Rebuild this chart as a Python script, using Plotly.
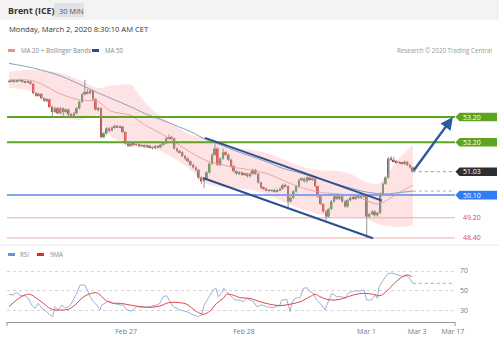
import plotly.graph_objects as go

# ---------------- data ----------------
closes = [
    54.62, 54.64, 54.60, 54.63, 54.65, 54.60, 54.58, 54.60, 54.52, 54.15,
    54.05, 54.12, 53.95, 53.85, 53.90, 53.60, 53.40, 53.55, 53.35, 53.55,
    53.40, 53.50, 53.30, 53.25, 53.35, 53.55, 53.80, 54.10, 54.20, 54.15,
    54.25, 53.90, 53.50, 53.55, 52.40, 52.55, 52.75, 52.65, 52.78, 52.85,
    52.80, 52.82, 52.60, 52.15, 52.05, 52.15, 52.10, 52.12, 52.05, 52.08,
    52.02, 52.06, 52.00, 51.97, 52.05, 52.00, 52.10, 52.15, 52.35, 52.40,
    52.35, 51.95, 51.85, 51.80, 51.65, 51.55, 51.45, 51.30, 51.20, 51.10,
    50.80, 50.65, 50.75, 51.00, 51.35, 51.70, 51.95, 51.30, 51.55, 51.80,
    51.70, 51.50, 51.25, 51.05, 50.95, 51.00, 50.90, 50.95, 50.85, 50.95,
    51.10, 50.95, 50.60, 50.40, 50.35, 50.30, 50.28, 50.30, 50.25, 50.30,
    50.35, 50.50, 50.45, 49.85, 50.00, 50.25, 50.45, 50.70, 50.75, 50.65,
    50.80, 50.70, 50.75, 50.45, 50.05, 49.75, 49.45, 49.25, 49.55, 49.85,
    50.05, 49.95, 50.05, 49.85, 49.65, 49.90, 50.00, 49.95, 50.05, 50.00,
    50.08, 50.05, 49.25, 49.35, 49.45, 49.30, 49.40, 50.15, 50.55, 50.80,
    51.55, 51.50, 51.45, 51.40, 51.38, 51.35, 51.42, 51.30, 51.20, 51.03,
]
first_open = 54.60
opens = [first_open] + closes[:-1]
highs = [
    54.66, 54.68, 54.67, 54.66, 54.69, 54.68, 54.63, 54.64, 54.63, 54.55,
    54.20, 54.16, 54.15, 53.98, 53.95, 53.93, 53.65, 53.60, 53.60, 53.60,
    53.58, 53.55, 53.53, 53.35, 53.40, 53.60, 53.85, 54.15, 54.67, 54.30,
    54.30, 54.28, 53.95, 53.60, 53.58, 52.62, 52.80, 52.80, 52.82, 52.90,
    52.88, 52.86, 52.85, 52.63, 52.20, 52.20, 52.18, 52.16, 52.15, 52.12,
    52.11, 52.10, 52.09, 52.04, 52.09, 52.08, 52.14, 52.20, 52.40, 52.50,
    52.45, 52.38, 51.99, 51.90, 51.84, 51.70, 51.60, 51.48, 51.35, 51.25,
    51.14, 50.85, 50.80, 51.05, 51.40, 51.75, 52.15, 52.00, 51.60, 51.95,
    51.85, 51.75, 51.55, 51.30, 51.10, 51.05, 51.04, 51.00, 50.99, 51.00,
    51.15, 51.14, 50.98, 50.64, 50.45, 50.40, 50.34, 50.35, 50.34, 50.35,
    50.40, 50.56, 50.55, 50.48, 50.05, 50.30, 50.50, 50.75, 50.80, 50.80,
    50.85, 50.84, 50.80, 50.78, 50.48, 50.08, 49.78, 49.50, 49.60, 49.90,
    50.10, 50.10, 50.10, 50.08, 49.90, 49.95, 50.05, 50.04, 50.10, 50.09,
    50.12, 50.12, 50.08, 49.40, 49.50, 49.50, 49.45, 50.20, 50.60, 50.85,
    51.62, 51.65, 51.62, 51.50, 51.45, 51.42, 51.47, 51.45, 51.34, 51.24,
]
lows = [
    54.56, 54.58, 54.57, 54.57, 54.60, 54.56, 54.54, 54.55, 54.48, 54.10,
    54.00, 54.00, 53.90, 53.80, 53.80, 53.55, 53.22, 53.36, 53.30, 53.30,
    53.22, 53.35, 53.20, 53.20, 53.20, 53.30, 53.50, 53.75, 54.05, 54.10,
    54.10, 53.85, 53.45, 53.42, 52.35, 52.36, 52.50, 52.60, 52.62, 52.74,
    52.76, 52.77, 52.57, 52.10, 52.00, 52.00, 52.05, 52.06, 52.00, 52.01,
    51.98, 51.98, 51.95, 51.92, 51.93, 51.96, 51.96, 52.06, 52.12, 52.30,
    52.30, 51.90, 51.80, 51.75, 51.60, 51.50, 51.40, 51.25, 51.15, 51.05,
    50.72, 50.55, 50.38, 50.70, 50.95, 51.30, 51.65, 51.25, 51.25, 51.50,
    51.65, 51.45, 51.20, 51.00, 50.90, 50.90, 50.86, 50.86, 50.80, 50.80,
    50.90, 50.90, 50.55, 50.35, 50.30, 50.25, 50.23, 50.24, 50.20, 50.21,
    50.26, 50.31, 50.40, 49.62, 49.80, 49.95, 50.20, 50.40, 50.65, 50.60,
    50.60, 50.66, 50.66, 50.40, 50.00, 49.70, 49.40, 49.10, 49.20, 49.50,
    49.80, 49.90, 49.90, 49.80, 49.60, 49.60, 49.85, 49.90, 49.90, 49.95,
    49.96, 50.00, 48.40, 49.20, 49.30, 49.25, 49.25, 49.35, 50.10, 50.50,
    50.75, 51.45, 51.40, 51.35, 51.33, 51.30, 51.30, 51.25, 51.15, 51.00,
]
candle_idx = list(range(len(closes)))

band_idx = [0, 9, 19, 26, 33, 37, 45, 47, 51, 55, 62, 67, 73, 78, 83, 89, 95,
            100, 107, 114, 121, 126, 131, 136, 140, 144, 149]
band_upper = [54.99, 55.07, 54.95, 54.67, 54.35, 54.43, 54.47, 54.23, 53.68, 53.32,
              52.80, 52.49, 52.37, 52.21, 52.01, 51.89, 51.77, 51.57, 51.26, 51.10,
              51.06, 50.94, 50.66, 50.54, 50.98, 51.57, 52.09]
band_lower = [54.35, 54.19, 53.28, 53.08, 53.24, 52.49, 52.05, 52.01, 51.97, 51.89,
              51.49, 51.10, 50.54, 50.42, 50.38, 50.30, 50.14, 49.90, 49.59, 49.35,
              49.23, 49.23, 49.19, 48.95, 48.87, 48.83, 48.91]
ma20 = [54.67, 54.63, 54.12, 53.88, 53.80, 53.46, 53.26, 53.12, 52.83, 52.61,
        52.15, 51.80, 51.46, 51.32, 51.20, 51.10, 50.96, 50.74, 50.43, 50.23,
        50.15, 50.09, 49.93, 49.75, 49.93, 50.20, 50.50]
ma50 = [55.33, 55.14, 54.83, 54.50, 54.15, 53.97, 53.60, 53.50, 53.30, 53.14,
        52.84, 52.62, 52.29, 52.10, 51.88, 51.65, 51.43, 51.20, 50.99, 50.76,
        50.54, 50.38, 50.24, 50.16, 50.15, 50.20, 50.26]

rsi_idx = [0, 1.6, 2.8, 4.1, 5.9, 7.1, 8.4, 9.6, 10.8, 12.1, 13.9, 15.1, 16.1, 17.0,
           18.2, 19.5, 20.7, 22.5, 23.7, 25.0, 26.2, 28.0, 28.9, 29.9, 31.1, 32.4,
           33.6, 34.2, 35.4, 36.6, 38.5, 41.0, 42.2, 43.4, 45.3, 47.1, 49.6, 52.0,
           54.5, 55.7, 56.9, 58.2, 59.4, 60.6, 63.1, 65.6, 68.0, 69.9, 71.1, 72.0,
           73.5, 75.4, 76.4, 77.2, 78.5, 79.3, 80.3, 81.6, 83.4, 85.2, 86.5, 87.7,
           88.9, 90.2, 91.4, 93.3, 95.1, 97.5, 100.0, 100.6, 102.5, 103.1, 103.7,
           104.3, 105.5, 107.4, 108.6, 109.9, 111.1, 112.3, 113.5, 114.8, 116.6,
           117.8, 119.1, 120.9, 122.8, 124.0, 125.2, 127.1, 129.5, 131.0, 132.0,
           133.8, 135.1, 135.9, 136.6, 138.1, 140.0, 141.8, 143.7, 145.5, 146.8,
           148.0, 149.0]
rsi_val = [46.4, 45.7, 48.4, 45.0, 45.0, 42.3, 35.6, 32.2, 37.3, 32.2, 28.8, 25.4,
           23.8, 33.9, 30.5, 35.6, 32.2, 34.9, 40.6, 47.4, 55.8, 55.8, 50.8, 44.0,
           38.9, 35.6, 30.5, 35.6, 37.3, 39.6, 37.3, 35.6, 35.6, 30.5, 29.5, 33.9,
           33.2, 33.9, 35.6, 37.3, 44.0, 45.0, 38.9, 33.9, 30.5, 28.8, 25.4, 23.8,
           25.4, 35.6, 42.3, 50.8, 52.5, 44.0, 47.4, 52.5, 49.0, 45.5, 40.6, 40.6,
           38.9, 42.3, 40.6, 38.9, 33.9, 35.6, 33.9, 32.8, 35.6, 40.6, 41.3, 35.6,
           28.8, 37.3, 42.3, 43.0, 52.5, 53.1, 49.0, 47.4, 40.6, 37.3, 30.5, 38.9,
           47.4, 44.0, 44.0, 42.3, 47.4, 49.7, 49.7, 50.8, 40.6, 40.6, 45.7, 42.3,
           54.1, 60.9, 67.7, 67.7, 66.0, 64.3, 65.2, 61.9, 57.5]
ma9_idx = [0, 2.8, 5.9, 7.7, 10.2, 12.7, 15.1, 17.0, 19.4, 21.9, 24.4, 26.8, 29.3,
           32.4, 33.6, 36.1, 38.5, 41.0, 44.6, 48.3, 52.0, 55.7, 58.8, 63.1, 65.6,
           69.3, 71.7, 74.2, 76.6, 79.1, 80.3, 82.8, 85.2, 88.9, 92.6, 96.3, 100.0,
           103.7, 107.4, 111.1, 112.9, 114.8, 117.2, 120.3, 123.4, 127.0, 130.7,
           134.4, 136.9, 139.4, 141.8, 144.3, 146.8, 148.6]
ma9_val = [33.9, 40.6, 45.7, 46.4, 42.3, 37.3, 32.2, 30.5, 30.5, 31.2, 35.6, 42.3,
           46.4, 48.0, 45.7, 39.6, 37.3, 37.3, 35.6, 33.9, 33.2, 34.6, 37.9, 37.9,
           36.3, 28.8, 26.2, 29.5, 37.3, 42.3, 46.4, 45.5, 43.0, 42.3, 38.9, 36.3,
           34.9, 36.3, 38.9, 44.0, 46.4, 44.0, 41.3, 40.6, 42.3, 45.7, 47.4, 46.4,
           45.0, 49.7, 56.5, 62.6, 66.0, 64.3]

tick_pos = [43.2, 86.7, 131.9, 150.6, 163.8]
tick_text = ["Feb 27", "Feb 28", "Mar 1", "Mar 3", "Mar 17"]

resistance = [53.20, 52.20]
pivot = 50.10
support = [49.20, 48.40]
last_price = closes[-1]

channel_upper = ([72.3, 137.6], [52.37, 49.88])
channel_lower = ([71.6, 134.3], [50.78, 48.39])
arrow_target = (tick_pos[-1], resistance[0])

# ---------------- layout helpers ----------------
W, H = 499, 338
ML, MR, MT, MB = 7, 44, 60, 16
PW, PH = W - ML - MR, H - MT - MB
X_RANGE = [-0.74, 164.57]


def px(x):
    return (x - ML) / PW


def py(y):
    return (H - MB - y) / PH


GREEN = "#5da423"
RED_C = "#c9302c"
GREEN_C = "#3d8b37"
CH = "#2d4f8e"

fig = go.Figure()

# Bollinger band
fig.add_trace(go.Scatter(x=band_idx, y=band_upper, mode="lines",
                         line=dict(width=0, shape="spline"), hoverinfo="skip"))
fig.add_trace(go.Scatter(x=band_idx, y=band_lower, mode="lines",
                         line=dict(width=0, shape="spline"), fill="tonexty",
                         fillcolor="rgba(250,170,170,0.33)", hoverinfo="skip"))
fig.add_trace(go.Scatter(x=band_idx, y=ma20, mode="lines",
                         line=dict(width=1, color="#eaa5a5", shape="spline")))
fig.add_trace(go.Scatter(x=band_idx, y=ma50, mode="lines",
                         line=dict(width=1, color="#8d9cc0", shape="spline")))

# horizontal levels
for lv in resistance:
    fig.add_trace(go.Scatter(x=X_RANGE, y=[lv, lv], mode="lines",
                             line=dict(width=2, color=GREEN)))
fig.add_trace(go.Scatter(x=X_RANGE, y=[pivot, pivot], mode="lines",
                         line=dict(width=2, color="#86a2ea")))
for lv in support:
    fig.add_trace(go.Scatter(x=X_RANGE, y=[lv, lv], mode="lines",
                             line=dict(width=1, color="#f2a9a9")))

# dotted last values
fig.add_trace(go.Scatter(x=[candle_idx[-1], X_RANGE[1]], y=[last_price, last_price],
                         mode="lines", line=dict(width=1, color="#999", dash="dot")))
fig.add_trace(go.Scatter(x=[band_idx[-1], X_RANGE[1]], y=[ma50[-1], ma50[-1]],
                         mode="lines", line=dict(width=1, color="#aaa", dash="dot")))

# wicks
wx, wy = [], []
for i, h, l in zip(candle_idx, highs, lows):
    wx += [i, i, None]
    wy += [l, h, None]
fig.add_trace(go.Scatter(x=wx, y=wy, mode="lines", line=dict(width=1, color="#949494"),
                         hoverinfo="skip"))

# bodies
base = [min(o, c) for o, c in zip(opens, closes)]
height = [max(abs(c - o), 0.02) for o, c in zip(opens, closes)]
colors = [GREEN_C if c >= o else RED_C for o, c in zip(opens, closes)]
fig.add_trace(go.Bar(x=candle_idx, y=height, base=base, width=0.72,
                     marker=dict(color=colors, line=dict(width=0))))

# channel
fig.add_trace(go.Scatter(x=channel_upper[0], y=channel_upper[1], mode="lines",
                         line=dict(width=2, color=CH)))
fig.add_trace(go.Scatter(x=channel_lower[0], y=channel_lower[1], mode="lines",
                         line=dict(width=2, color=CH)))

# RSI
fig.add_trace(go.Scatter(x=rsi_idx, y=rsi_val, mode="lines", yaxis="y2",
                         line=dict(width=1, color="#9db0d8")))
fig.add_trace(go.Scatter(x=ma9_idx, y=ma9_val, mode="lines", yaxis="y2",
                         line=dict(width=1, color="#e0474c", shape="spline")))
fig.add_trace(go.Scatter(x=[rsi_idx[-1], X_RANGE[1]], y=[rsi_val[-1], rsi_val[-1]],
                         mode="lines", yaxis="y2",
                         line=dict(width=1, color="#aaa", dash="dot")))

shapes = []
annotations = []

# header
shapes.append(dict(type="rect", xref="paper", yref="paper", x0=px(0), x1=px(W),
                   y0=py(20), y1=py(0), fillcolor="#f3f3f3", line=dict(width=0)))
shapes.append(dict(type="rect", xref="paper", yref="paper", x0=px(54), x1=px(84),
                   y0=py(17), y1=py(3), fillcolor="#dfe2e7", line=dict(width=0)))
shapes.append(dict(type="line", xref="paper", yref="paper", x0=px(0), x1=px(W),
                   y0=py(245), y1=py(245), line=dict(width=1, color="#ececec")))
# legend dashes
for x0, x1, y, col in [(8, 15, 50.5, "#f08c8c"), (92, 99, 50.5, "#2b4a8a"),
                       (8, 15, 254.5, "#6f8fd6"), (37, 44, 254.5, "#e02a2a")]:
    shapes.append(dict(type="rect", xref="paper", yref="paper", x0=px(x0), x1=px(x1),
                       y0=py(y + 1.5), y1=py(y - 1.5), fillcolor=col, line=dict(width=0)))
# axis end ticks
for x in (7, 455):
    shapes.append(dict(type="line", xref="paper", yref="paper", x0=px(x), x1=px(x),
                       y0=py(326), y1=py(322), line=dict(width=1, color="#9a9a9a")))

# level label boxes
half = 4.3 / 25.2
for lv, col in [(resistance[0], GREEN), (resistance[1], GREEN),
                (last_price, "#2f2f2f"), (pivot, "#2f7cf6")]:
    xt, xb, xr = px(455.5), px(459.5), px(497)
    path = (f"M {xt},{lv} L {xb},{lv + half} L {xr},{lv + half} "
            f"L {xr},{lv - half} L {xb},{lv - half} Z")
    shapes.append(dict(type="path", xref="paper", yref="y", path=path,
                       fillcolor=col, line=dict(width=0)))
    annotations.append(dict(x=px(461), y=lv, xref="paper", yref="y", text=f"{lv:.2f}",
                            showarrow=False, xanchor="left", yanchor="middle",
                            font=dict(size=7, color="white")))
for lv in support:
    annotations.append(dict(x=px(461), y=lv, xref="paper", yref="y", text=f"{lv:.2f}",
                            showarrow=False, xanchor="left", yanchor="middle",
                            font=dict(size=7, color="#e04848")))

# arrow
annotations.append(dict(x=arrow_target[0], y=arrow_target[1], ax=candle_idx[-1],
                        ay=last_price, xref="x", yref="y", axref="x", ayref="y",
                        showarrow=True, arrowhead=2, arrowsize=1, arrowwidth=2.5,
                        arrowcolor="#2d5b9e", text=""))


def txt(x, y, s, size, color, anchor="left", bold=False):
    annotations.append(dict(x=px(x), y=py(y), xref="paper", yref="paper",
                            text=f"<b>{s}</b>" if bold else s, showarrow=False,
                            xanchor=anchor, yanchor="middle",
                            font=dict(size=size, color=color)))


txt(6, 11, "Brent (ICE)", 8.8, "#333", bold=True)
txt(57, 10.5, "30 MIN", 7.4, "#555")
txt(6.5, 28.5, "Monday, March 2, 2020 8:30:10 AM CET", 7.6, "#333")
txt(18.5, 50.7, "MA 20 + Bollinger Bands", 6.2, "#888")
txt(102.5, 50.7, "MA 50", 6.2, "#888")
txt(494, 50.7, "Research © 2020 Trading Central", 6.2, "#999", anchor="right")
txt(18, 254.5, "RSI", 6.2, "#888")
txt(47.5, 254.5, "9MA", 6.2, "#888")

fig.update_layout(
    width=W, height=H,
    margin=dict(l=ML, r=MR, t=MT, b=MB, autoexpand=False),
    paper_bgcolor="white", plot_bgcolor="white",
    showlegend=False,
    font=dict(family="Open Sans, Liberation Sans, sans-serif", color="#777"),
    xaxis=dict(domain=[0, 1], anchor="y2", range=X_RANGE, showgrid=False,
               zeroline=False, showline=True, linecolor="#9a9a9a", linewidth=1,
               tickvals=tick_pos, ticktext=tick_text, ticks="",
               ticklabelstandoff=3, automargin=False,
               tickfont=dict(size=7, color="#777")),
    yaxis=dict(domain=[py(243), 1], range=[48.2, 55.462], visible=False,
               showgrid=False, zeroline=False),
    yaxis2=dict(domain=[0, py(256)], range=[18.35, 85.19], side="right", anchor="x",
                tickvals=[30, 50, 70], showgrid=True, gridcolor="#d5d5d5",
                griddash="dot", zeroline=False, showline=False, ticks="",
                ticklabelstandoff=4, automargin=False,
                tickfont=dict(size=7, color="#777")),
    shapes=shapes, annotations=annotations,
    hovermode=False,
)

fig.write_html("out.html", config={"displayModeBar": False})
